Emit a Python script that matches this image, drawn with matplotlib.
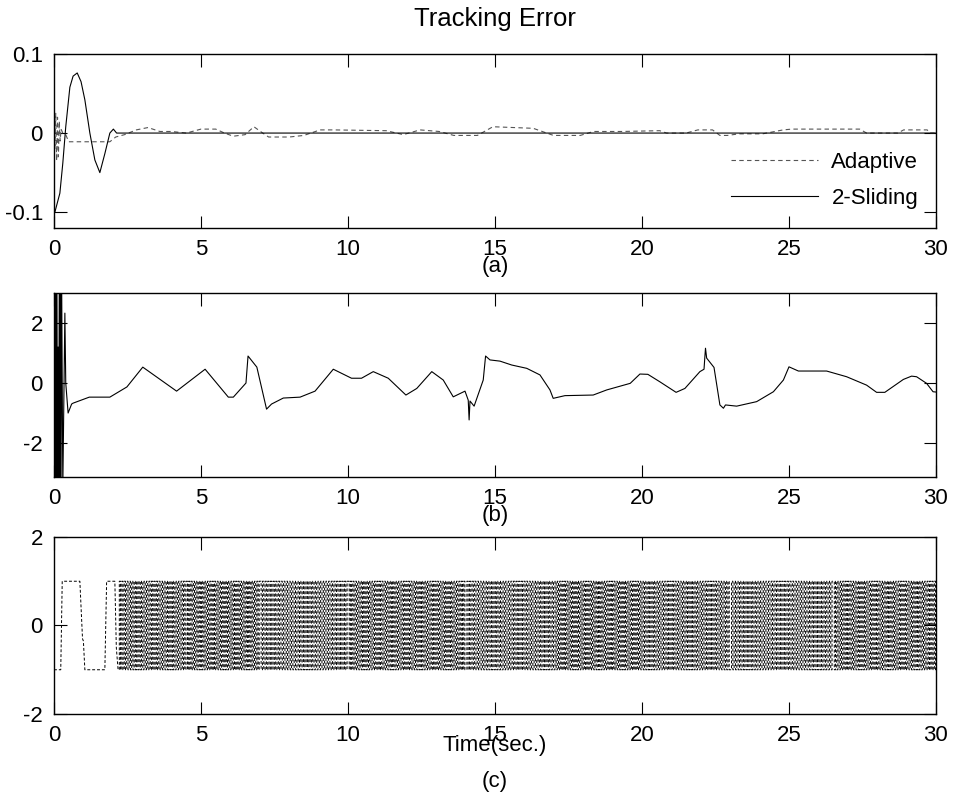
import numpy as np
from matplotlib import pyplot as plt

plt.rcParams['font.family'] = ['Liberation Sans', 'DejaVu Sans']
plt.rcParams['font.size'] = 16

# (a) tracking error
sliding_t = [0, 0.03, 0.2, 0.3, 0.4, 0.54, 0.65, 0.79, 0.92, 1.05, 1.22, 1.39, 1.56, 1.73,
             1.9, 2.02, 2.13, 30]
sliding_v = [-0.1, -0.1, -0.076, -0.038, 0.008, 0.058, 0.072, 0.076, 0.065, 0.042, 0.0,
             -0.034, -0.05, -0.026, 0.0, 0.005, 0.0, 0.0]

adaptive_t = [0, 0.03, 0.06, 0.09, 0.12, 0.15, 0.18, 0.21, 0.24, 0.3,
              0.4, 0.5, 1.0, 1.9, 2.1, 2.4, 2.8, 3.2, 3.6, 4.0,
              4.5, 5.0, 5.5, 5.8, 6.1, 6.5, 6.8, 7.1, 7.3, 8.0,
              8.5, 9.05, 9.5, 11.3, 11.88, 12.45, 13.1, 13.6, 14.4, 14.93,
              16.3, 16.99, 17.9, 18.35, 19.3, 20.6, 20.84, 21.5, 21.9, 22.4,
              22.65, 22.9, 23.3, 24.1, 24.8, 25.1, 27.4, 27.64, 28.7, 28.9,
              29.7, 29.8, 30]
adaptive_v = [0.029, -0.02, 0.025, -0.035, 0.02, -0.03, 0.015, -0.01, 0.005, 0.0,
              -0.002, -0.011, -0.011, -0.011, -0.005, -0.002, 0.004, 0.007, 0.002, 0.002,
              0.0, 0.005, 0.005, 0.0, -0.004, -0.002, 0.008, 0.0, -0.005, -0.005,
              -0.003, 0.004, 0.004, 0.003, -0.002, 0.004, 0.002, -0.003, -0.003, 0.008,
              0.006, -0.003, -0.003, 0.002, 0.002, 0.003, 0.0, 0.0, 0.004, 0.004,
              -0.003, -0.003, -0.001, -0.001, 0.004, 0.005, 0.005, 0.0, 0.0, 0.004,
              0.004, 0.0, 0.0]

# (b) control signal
b_t = [0, 0.02, 0.04, 0.06, 0.08, 0.10, 0.12, 0.14, 0.16, 0.18,
       0.20, 0.22, 0.24, 0.26, 0.30, 0.37, 0.40, 0.48, 0.6, 0.65,
       1.2, 1.9, 2.48, 3.02, 4.17, 5.14, 5.93, 6.1, 6.53, 6.6,
       6.9, 7.23, 7.4, 7.8, 8.37, 8.88, 9.05, 9.5, 10.12, 10.46,
       10.86, 11.37, 11.97, 12.34, 12.85, 13.24, 13.58, 13.98, 14.09, 14.12,
       14.15, 14.29, 14.6, 14.68, 14.83, 15.17, 15.57, 16.08, 16.53, 16.87,
       16.98, 17.38, 18.34, 18.8, 19.6, 19.93, 20.2, 20.61, 21.16, 21.46,
       21.97, 22.11, 22.14, 22.16, 22.2, 22.45, 22.65, 22.77, 22.84, 23.22,
       23.9, 24.47, 24.81, 25.0, 25.32, 26.28, 26.96, 27.64, 27.98, 28.26,
       28.89, 29.17, 29.34, 29.68, 29.9, 30]
b_v = [0.3, 3.5, -3.5, 3.5, -3.5, 3.5, -3.5, 1.2, -3.5, 3.5,
       -3.5, 3.5, -3.5, 3.5, -3.5, 2.33, 0.0, -1.0, -0.7, -0.67,
       -0.47, -0.47, -0.13, 0.53, -0.27, 0.46, -0.47, -0.47, 0.0, 0.9,
       0.53, -0.87, -0.7, -0.5, -0.47, -0.27, -0.07, 0.46, 0.16, 0.16,
       0.38, 0.16, -0.4, -0.18, 0.38, 0.1, -0.46, -0.27, -0.57, -1.23,
       -0.6, -0.77, 0.1, 0.9, 0.77, 0.73, 0.6, 0.49, 0.27, -0.23,
       -0.51, -0.42, -0.4, -0.23, -0.01, 0.3, 0.29, 0.04, -0.31, -0.18,
       0.38, 0.46, 0.89, 1.16, 0.83, 0.52, -0.73, -0.84, -0.73, -0.77,
       -0.62, -0.29, 0.1, 0.54, 0.4, 0.4, 0.21, -0.07, -0.31, -0.31,
       0.12, 0.23, 0.21, -0.01, -0.29, -0.3]

# (c) switching signal: slow start, then chattering segments
c_t0 = [0, 0.23, 0.28, 0.88, 0.97, 1.0, 1.05, 1.73, 1.79, 2.07, 2.12, 2.18]
c_v0 = [-1, -1, 1, 1, -0.3, -0.35, -1, -1, 1, 1, -0.5, -1]
c_edges = [2.18, 4.5, 7.0, 10.0, 14.0, 17.0, 20.0, 23.0, 26.5, 30.0]
c_half = [0.042, 0.04, 0.045, 0.041, 0.044, 0.04, 0.043, 0.045, 0.041]


def style_axes(ax, ylim, yticks):
    ax.set_xlim(0, 30)
    ax.set_ylim(*ylim)
    ax.set_xticks([0, 5, 10, 15, 20, 25, 30])
    ax.set_yticks(yticks)
    ax.tick_params(direction='in', top=True, right=True, length=9, width=0.8, pad=8)
    for s in ax.spines.values():
        s.set_linewidth(1.0)


fig = plt.figure(figsize=(9.59, 7.96), dpi=100)
ax1 = fig.add_axes([0.0563, 0.7136, 0.9197, 0.2186])
ax2 = fig.add_axes([0.0563, 0.4008, 0.9197, 0.2311])
ax3 = fig.add_axes([0.0563, 0.1030, 0.9197, 0.2224])

ax1.plot(adaptive_t, adaptive_v, color='#555555', linestyle=(0, (4, 3)), linewidth=0.8,
         label='Adaptive')
ax1.plot(sliding_t, sliding_v, color='black', linewidth=0.8, label='2-Sliding')
style_axes(ax1, (-0.12, 0.1), [-0.1, 0, 0.1])
ax1.set_yticklabels(['-0.1', '0', '0.1'])
ax1.set_title('Tracking Error', pad=20, fontsize=18.5)
ax1.set_xlabel('(a)', labelpad=-3)
ax1.legend(loc='lower right', frameon=False, handlelength=3.9, handletextpad=0.6,
           labelspacing=0.65, borderaxespad=0, bbox_to_anchor=(0.99, 0.06))

ax2.plot(b_t, b_v, color='black', linewidth=0.8)
style_axes(ax2, (-3.13, 3.0), [-2, 0, 2])
ax2.set_yticklabels(['-2', '0', '2'])
ax2.set_xlabel('(b)', labelpad=-3)

# build chatter from segment half-periods
ct = list(c_t0)
cv = list(c_v0)
level = -1
for i in range(len(c_half)):
    sw = np.arange(c_edges[i] + c_half[i], c_edges[i + 1], c_half[i])
    for s in sw:
        ct.append(s)
        cv.append(level)
        level = -level
        ct.append(s)
        cv.append(level)
ct.append(30)
cv.append(level)
ax3.plot(ct, cv, color='black', linestyle=(0, (3, 2)), linewidth=0.7)
style_axes(ax3, (-2, 2), [-2, 0, 2])
ax3.set_yticklabels(['-2', '0', '2'])
ax3.set_xlabel('Time(sec.)', labelpad=-8)
fig.text(0.5162, 1 - 782 / 796, '(c)', ha='center', va='center', fontsize=16)

plt.savefig('out.png', dpi=100)
